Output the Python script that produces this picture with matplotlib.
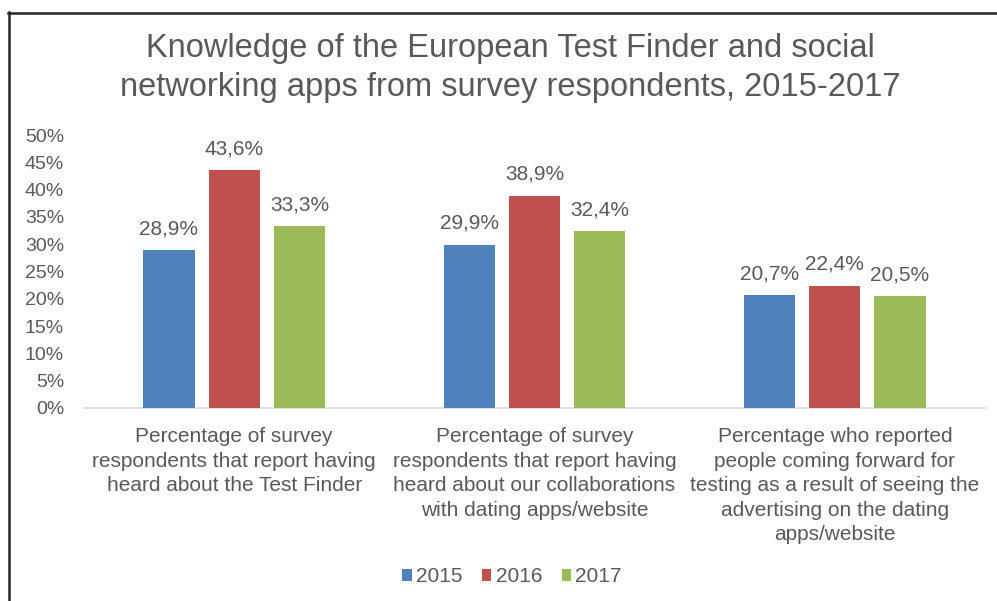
import matplotlib
matplotlib.use("Agg")
import matplotlib.pyplot as plt
from matplotlib.lines import Line2D
from matplotlib.patches import Patch
import numpy as np

plt.rcParams['font.family'] = ['Liberation Sans', 'DejaVu Sans']

categories = [
    "Percentage of survey\nrespondents that report having\nheard about the Test Finder",
    "Percentage of survey\nrespondents that report having\nheard about our collaborations\nwith dating apps/website",
    "Percentage who reported\npeople coming forward for\ntesting as a result of seeing the\nadvertising on the dating\napps/website",
]
years = ["2015", "2016", "2017"]
values_2015 = [28.9, 29.9, 20.7]
values_2016 = [43.6, 38.9, 22.4]
values_2017 = [33.3, 32.4, 20.5]
yticks = [0, 5, 10, 15, 20, 25, 30, 35, 40, 45, 50]

colors = ["#4F81BD", "#C0504D", "#9BBB59"]
text_color = "#595959"

W, H = 997, 601
fig = plt.figure(figsize=(W / 100, H / 100), dpi=100)
ax = fig.add_axes([84 / W, (H - 408) / H, (985 - 84) / W, (408 - 135) / H])

x = np.arange(len(categories))
width = 0.17
offset = 0.217
series = [values_2015, values_2016, values_2017]
for i, (vals, col, yr) in enumerate(zip(series, colors, years)):
    bars = ax.bar(x + (i - 1) * offset, vals, width, color=col, label=yr, zorder=3)
    for b, v in zip(bars, vals):
        ax.annotate(f"{v:.1f}%".replace(".", ","),
                    (b.get_x() + b.get_width() / 2, v),
                    xytext=(0, 8.5), textcoords="offset points",
                    ha="center", va="bottom", fontsize=15, color=text_color)

ax.set_xlim(-0.5, 2.5)
ax.set_ylim(0, 50)
ax.set_yticks(yticks)
ax.set_yticklabels([f"{t}%" for t in yticks], fontsize=14, color=text_color)
ax.set_xticks(x)
ax.set_xticklabels(categories, fontsize=15, color=text_color, linespacing=1.36, va="top")
ax.tick_params(axis="both", length=0)
ax.tick_params(axis="y", pad=14.4)
ax.tick_params(axis="x", pad=14)
for s in ["top", "right", "left"]:
    ax.spines[s].set_visible(False)
ax.spines["bottom"].set_color("#D9D9D9")
ax.spines["bottom"].set_linewidth(1.2)

fig.text(510 / W, 1 - 68 / H,
         "Knowledge of the European Test Finder and social\nnetworking apps from survey respondents, 2015-2017",
         ha="center", va="center", fontsize=23.5, color=text_color, linespacing=1.3)

handles = [Patch(facecolor=c, edgecolor="none") for c in colors]
fig.legend(handles, years, loc="center", bbox_to_anchor=(512 / W, 1 - 577 / H),
           ncol=3, frameon=False, fontsize=15, labelcolor=text_color,
           handlelength=0.45, handleheight=0.45, handletextpad=0.2, columnspacing=0.95)

# Frame lines (left and top)
fig.add_artist(Line2D([9 / W, 9 / W], [0, 1 - 12 / H], color="#262626", lw=1.8,
                      transform=fig.transFigure))
fig.add_artist(Line2D([8 / W, 1], [1 - 13 / H, 1 - 13 / H], color="#262626", lw=1.8,
                      transform=fig.transFigure))

fig.savefig("out.png", dpi=100)
